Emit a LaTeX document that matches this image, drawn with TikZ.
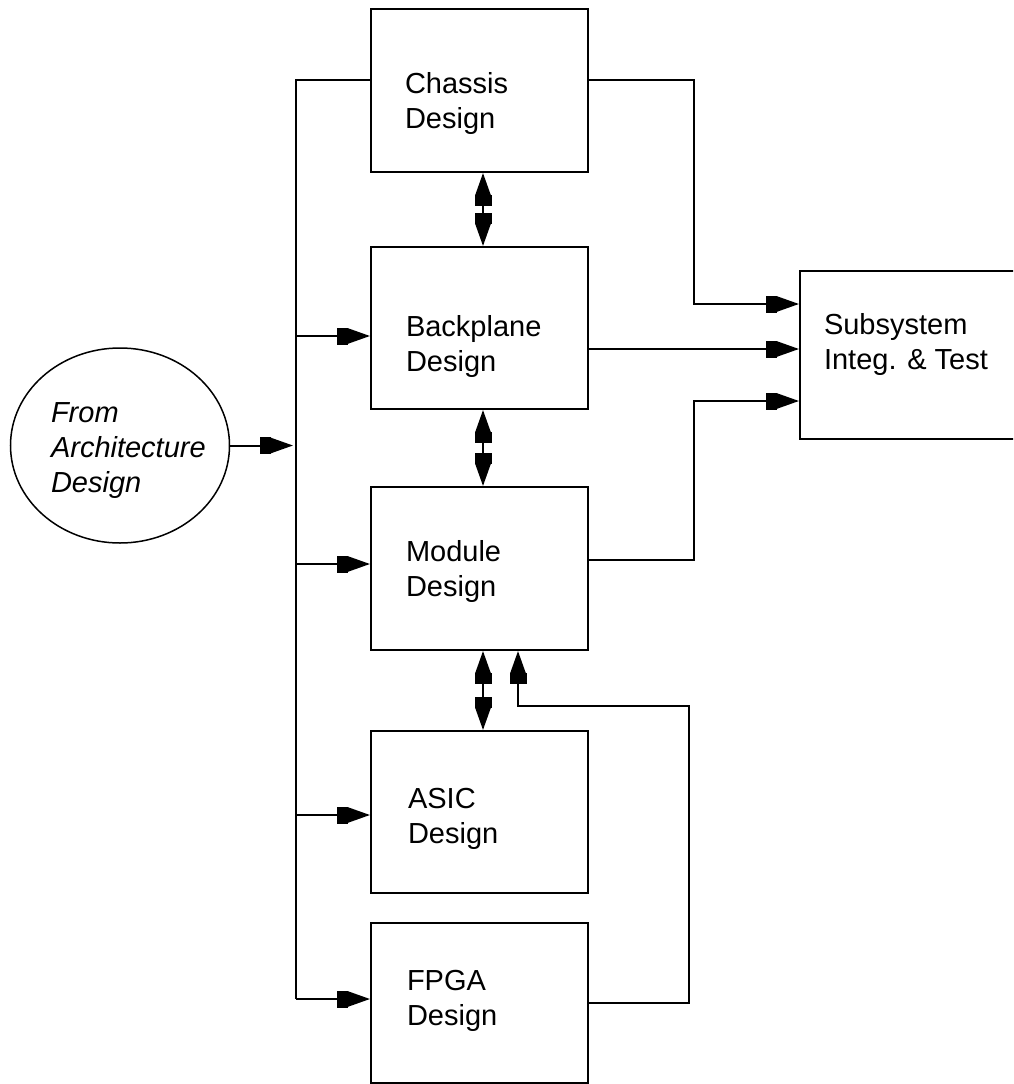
\documentclass[tikz,border=0pt]{standalone}
\usepackage{fontspec}
\setmainfont{Liberation Sans}
\usetikzlibrary{arrows.meta,shapes.geometric}
\begin{document}
\begin{tikzpicture}[x=1pt,y=-1pt,
  line width=2pt,
  box/.style={draw, line width=2pt, rectangle, minimum width=217pt, inner sep=0pt},
  lbl/.style={anchor=north west, align=left, inner sep=0pt, font=\fontsize{29}{35}\selectfont},
  arr/.style={-{Square[length=11pt,width=17pt,sep=0pt]Triangle[length=22pt,width=15pt]}},
  darr/.style={{Triangle[length=22pt,width=15pt,sep=0pt]Square[length=11pt,width=17pt]}-{Square[length=11pt,width=17pt,sep=0pt]Triangle[length=22pt,width=15pt]}},
]
\clip (0,0) rectangle (1013,1084);
\fill[white] (0,0) rectangle (1013,1084);

% boxes
\node[box, minimum height=163pt] (chassis) at (479.5,90.5) {};
\node[box, minimum height=162pt] (back) at (479.5,328) {};
\node[box, minimum height=163pt] (module) at (479.5,568.5) {};
\node[box, minimum height=162pt] (asic) at (479.5,812) {};
\node[box, minimum height=160pt] (fpga) at (479.5,1003) {};
\node[box, minimum width=230pt, minimum height=168pt] (sub) at (915,355) {};
\node[draw, ellipse, line width=1.5pt, minimum width=219pt, minimum height=195pt, inner sep=0pt] (arch) at (120,445.5) {};

% labels
\node[lbl] (chassisT) at (404,71) {Chassis\\Design};
\node[lbl] (backT) at (405,314) {Backplane\\Design};
\node[lbl] (moduleT) at (405,539) {Module\\Design};
\node[lbl] (asicT) at (407,787) {ASIC\\Design};
\node[lbl] (fpgaT) at (406,969) {FPGA\\Design};
\node[lbl] (subT) at (823,312) {Subsystem\\Integ. \& Test};
\node[lbl, font=\fontsize{29}{35}\selectfont\itshape] (archT) at (50,402) {From\\Architecture\\Design};

% helper coordinates
\coordinate (bt) at (296,80);
\coordinate (bb) at (296,999);
\coordinate (yb) at (0,336);
\coordinate (ym) at (0,564);
\coordinate (ya) at (0,815);
\coordinate (rx) at (694,0);
\coordinate (y304) at (0,304);
\coordinate (y349) at (0,349);
\coordinate (y560) at (0,560);
\coordinate (y401) at (0,401);
\coordinate (fx) at (689,0);
\coordinate (fy) at (0,706);
\coordinate (fb) at (518,0);
\coordinate (y1003) at (0,1003);
\coordinate (dx) at (483,0);

% bus
\draw (chassis.west |- bt) -- (bt) -- (bb);
\draw[arr, shorten >=3pt] (arch.east) -- (bt |- arch.east);
\draw[arr] (bt |- yb) -- (back.west |- yb);
\draw[arr] (bt |- ym) -- (module.west |- ym);
\draw[arr] (bt |- ya) -- (asic.west |- ya);
\draw[arr] (bb) -- (fpga.west |- bb);

% double arrows
\draw[darr] (dx |- chassis.south) -- (dx |- back.north);
\draw[darr] (dx |- back.south) -- (dx |- module.north);
\draw[darr] (dx |- module.south) -- (dx |- asic.north);

% to subsystem
\draw[arr] (chassis.east |- bt) -- (rx |- bt) -- (rx |- y304) -- (sub.west |- y304);
\draw[arr] (back.east |- y349) -- (sub.west |- y349);
\draw[arr] (module.east |- y560) -- (rx |- y560) -- (rx |- y401) -- (sub.west |- y401);

% feedback from FPGA
\draw[arr] (fpga.east |- y1003) -- (fx |- y1003) -- (fx |- fy) -- (fb |- fy) -- (fb |- module.south);
\end{tikzpicture}
\end{document}
